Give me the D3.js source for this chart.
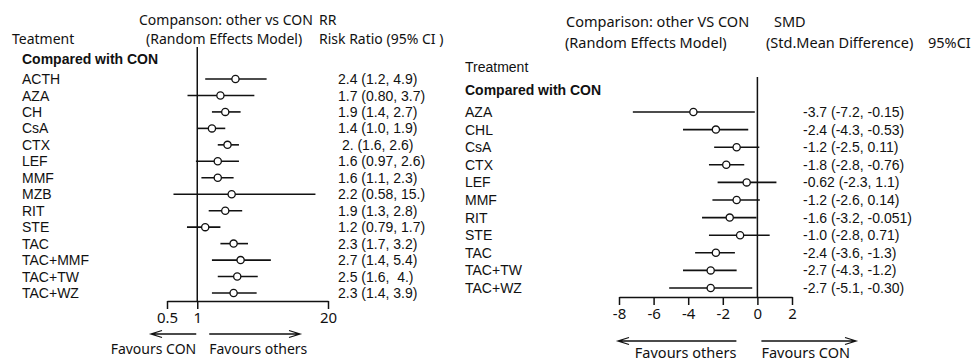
<!DOCTYPE html>
<html>
<head>
<meta charset="utf-8">
<script src="https://cdn.jsdelivr.net/npm/d3@7"></script>
<style>
    body { margin: 0; background: #fff; }
    svg text { fill: #111; }
    .lab { font-family: "Liberation Sans", Arial, sans-serif; font-size: 14px; }
    .hdr { font-family: "Noto Sans", sans-serif; font-size: 14px; }
    .axis text { font-family: "Noto Sans", sans-serif; font-size: 15px; fill: #111; }
    .axis path, .axis line { stroke: #111; stroke-width: 1.5; }
</style>
</head>
<body>
<div id="chart"></div>
<script>
// left panel : risk ratio vs CON
var rrTreat = ["ACTH", "AZA", "CH", "CsA", "CTX", "LEF", "MMF", "MZB", "RIT", "STE", "TAC", "TAC+MMF", "TAC+TW", "TAC+WZ"];
var rrEst = [2.4, 1.7, 1.9, 1.4, 2.0, 1.6, 1.6, 2.2, 1.9, 1.2, 2.3, 2.7, 2.5, 2.3];
var rrLow = [1.2, 0.80, 1.4, 1.0, 1.6, 0.97, 1.1, 0.58, 1.3, 0.79, 1.7, 1.4, 1.6, 1.4];
var rrHigh = [4.9, 3.7, 2.7, 1.9, 2.6, 2.6, 2.3, 15, 2.8, 1.7, 3.2, 5.4, 4.0, 3.9];
var rrText = ["2.4 (1.2, 4.9)", "1.7 (0.80, 3.7)", "1.9 (1.4, 2.7)", "1.4 (1.0, 1.9)", "\u00a02. (1.6, 2.6)",
    "1.6 (0.97, 2.6)", "1.6 (1.1, 2.3)", "2.2 (0.58, 15.)", "1.9 (1.3, 2.8)", "1.2 (0.79, 1.7)",
    "2.3 (1.7, 3.2)", "2.7 (1.4, 5.4)", "2.5 (1.6, \u00a04.)", "2.3 (1.4, 3.9)"];
var rrTicks = [0.5, 1, 20];

// right panel : standardised mean difference vs CON
var smdTreat = ["AZA", "CHL", "CsA", "CTX", "LEF", "MMF", "RIT", "STE", "TAC", "TAC+TW", "TAC+WZ"];
var smdEst = [-3.7, -2.4, -1.2, -1.8, -0.62, -1.2, -1.6, -1.0, -2.4, -2.7, -2.7];
var smdLow = [-7.2, -4.3, -2.5, -2.8, -2.3, -2.6, -3.2, -2.8, -3.6, -4.3, -5.1];
var smdHigh = [-0.15, -0.53, 0.11, -0.76, 1.1, 0.14, -0.051, 0.71, -1.3, -1.2, -0.30];
var smdText = ["-3.7 (-7.2, -0.15)", "-2.4 (-4.3, -0.53)", "-1.2 (-2.5, 0.11)", "-1.8 (-2.8, -0.76)",
    "-0.62 (-2.3, 1.1)", "-1.2 (-2.6, 0.14)", "-1.6 (-3.2, -0.051)", "-1.0 (-2.8, 0.71)",
    "-2.4 (-3.6, -1.3)", "-2.7 (-4.3, -1.2)", "-2.7 (-5.1, -0.30)"];
var smdTicks = [-8, -6, -4, -2, 0, 2];

var width = 971, height = 363;

var svg = d3.select("#chart").append("svg")
    .attr("width", width)
    .attr("height", height);

var arrowLine = function (g, x1, x2, y) {
    var dir = x2 < x1 ? 1 : -1;
    g.append("path")
        .attr("d", "M" + x1 + "," + y + "H" + x2 +
            "M" + (x2 + dir * 11) + "," + (y - 3.5) + "L" + x2 + "," + y + "L" + (x2 + dir * 11) + "," + (y + 3.5))
        .attr("fill", "none")
        .attr("stroke", "#111")
        .attr("stroke-width", 1.3);
};

var drawForest = function (cfg) {
    var g = svg.append("g");
    var rows = cfg.treat.map(function (t, i) {
        return {name: t, est: cfg.est[i], lo: cfg.low[i], hi: cfg.high[i], txt: cfg.text[i]};
    });

    var x = cfg.xScale;
    var y = d3.scalePoint().domain(cfg.treat).range(cfg.yRange);

    // header
    cfg.header.forEach(function (h) {
        g.append("text")
            .attr("class", h[3] || "hdr")
            .attr("x", h[0]).attr("y", h[1])
            .style("font-size", h[3] ? null : cfg.hdrSize)
            .text(h[2]);
    });

    g.append("text")
        .attr("class", "lab")
        .attr("x", cfg.labelX).attr("y", cfg.groupY)
        .style("font-weight", "bold")
        .text("Compared with CON");

    // reference line
    g.append("line")
        .attr("x1", x(cfg.refValue)).attr("x2", x(cfg.refValue))
        .attr("y1", cfg.refTop).attr("y2", cfg.axisY)
        .attr("stroke", "#111")
        .attr("stroke-width", 1.5);

    var row = g.selectAll(".row")
        .data(rows)
        .enter().append("g")
        .attr("class", "row");

    row.append("text")
        .attr("class", "lab")
        .attr("x", cfg.labelX)
        .attr("y", function (d) { return y(d.name); })
        .attr("dy", "0.36em")
        .text(function (d) { return d.name; });

    row.append("line")
        .attr("x1", function (d) { return x(d.lo); })
        .attr("x2", function (d) { return x(d.hi); })
        .attr("y1", function (d) { return y(d.name); })
        .attr("y2", function (d) { return y(d.name); })
        .attr("stroke", "#111")
        .attr("stroke-width", 1.6);

    row.append("circle")
        .attr("cx", function (d) { return x(d.est); })
        .attr("cy", function (d) { return y(d.name); })
        .attr("r", 3.6)
        .attr("fill", "#fff")
        .attr("stroke", "#111")
        .attr("stroke-width", 1.3);

    row.append("text")
        .attr("class", "lab")
        .attr("x", cfg.valueX)
        .attr("y", function (d) { return y(d.name); })
        .attr("dy", "0.36em")
        .text(function (d) { return d.txt; });

    // axis
    var axis = d3.axisBottom(x)
        .tickValues(cfg.ticks)
        .tickFormat(function (d) { return String(d); })
        .tickSize(8)
        .tickSizeOuter(0);

    g.append("g")
        .attr("class", "axis")
        .attr("transform", "translate(0," + cfg.axisY + ")")
        .call(axis);

    // favours arrows
    var xr = x(cfg.refValue);
    arrowLine(g, xr + cfg.arrows[0][0], cfg.arrows[0][1], cfg.arrowY);
    arrowLine(g, xr + cfg.arrows[1][0], cfg.arrows[1][1], cfg.arrowY);

    g.append("text").attr("class", "hdr")
        .attr("x", xr + cfg.arrows[0][0]).attr("y", cfg.favY)
        .attr("text-anchor", "end")
        .style("font-size", cfg.hdrSize)
        .text(cfg.favours[0]);
    g.append("text").attr("class", "hdr")
        .attr("x", xr + cfg.arrows[1][0]).attr("y", cfg.favY)
        .style("font-size", cfg.hdrSize)
        .text(cfg.favours[1]);
};

drawForest({
    treat: rrTreat, est: rrEst, low: rrLow, high: rrHigh, text: rrText, ticks: rrTicks,
    xScale: d3.scaleLog().domain([0.5, 20]).range([167, 328]),
    yRange: [79, 293],
    refValue: 1, refTop: 47, axisY: 301,
    labelX: 22, groupY: 64, valueX: 338, hdrSize: "14px",
    header: [[139, 25, "Companson: other vs CON"], [319, 25, "RR"],
        [12, 44, "Teatment"], [146, 44, "(Random Effects Model)"], [319, 44, "Risk Ratio (95% CI )"]],
    arrows: [[-1, 151], [12, 300]],
    arrowY: 334, favY: 354,
    favours: ["Favours CON", "Favours others"]
});

drawForest({
    treat: smdTreat, est: smdEst, low: smdLow, high: smdHigh, text: smdText, ticks: smdTicks,
    xScale: d3.scaleLinear().domain([-8, 2]).range([619, 792]),
    yRange: [112, 288],
    refValue: 0, refTop: 77, axisY: 297,
    labelX: 465, groupY: 95, valueX: 803, hdrSize: "14.5px",
    header: [[566, 27, "Comparison: other VS CON"], [774, 27, "SMD"],
        [565, 48, "(Random Effects Model)"], [766, 48, "(Std.Mean Difference)"], [928, 48, "95%CI"],
        [465, 72, "Treatment", "lab"]],
    arrows: [[-21, 618], [4, 856]],
    arrowY: 341, favY: 358,
    favours: ["Favours others", "Favours CON"]
});
</script>
</body>
</html>
